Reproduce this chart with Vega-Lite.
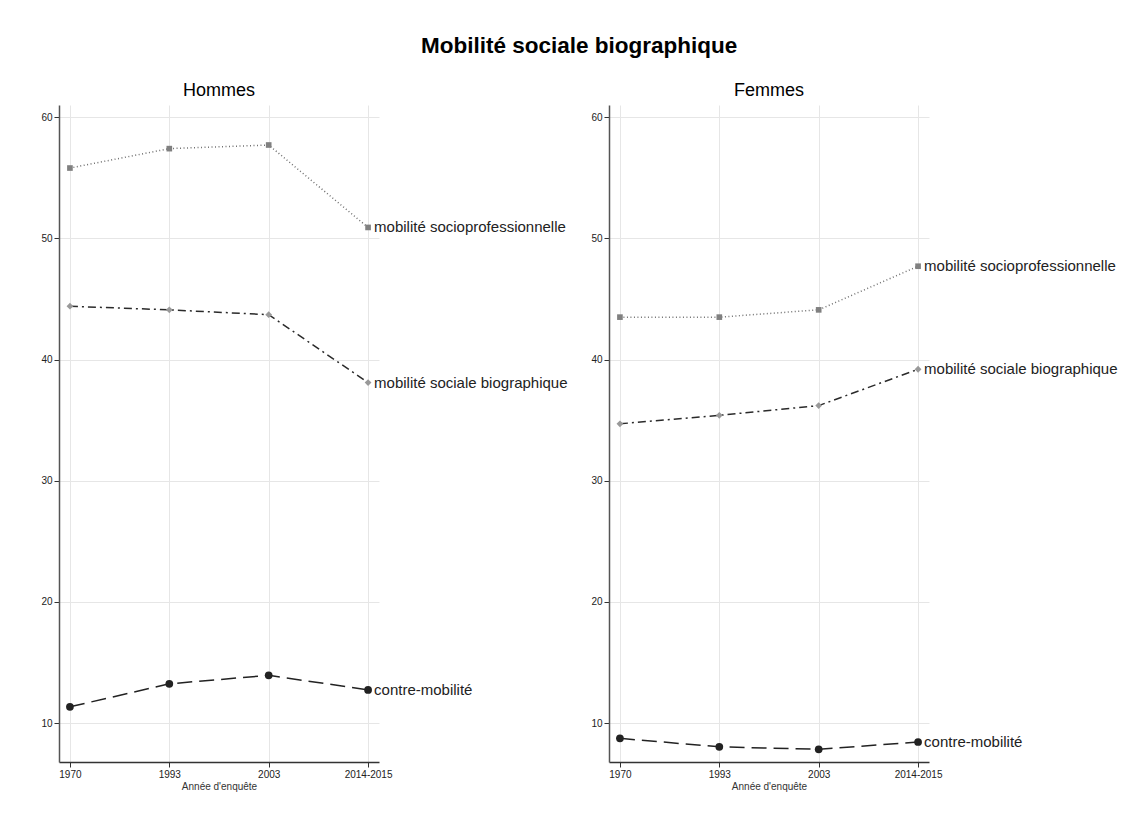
{
  "$schema": "https://vega.github.io/schema/vega-lite/v6.json",
  "background": "white",
  "padding": {"left": 40, "top": 34, "right": 5, "bottom": 5},
  "title": {"text": "Mobilité sociale biographique", "fontSize": 22.5, "fontWeight": "bold", "font": "Liberation Sans", "color": "#000", "anchor": "middle", "offset": 25},
  "data": {"values": [
    {"sexe": "Hommes", "annee": "1970", "serie": "mobilité socioprofessionnelle", "valeur": 55.8},
    {"sexe": "Hommes", "annee": "1993", "serie": "mobilité socioprofessionnelle", "valeur": 57.4},
    {"sexe": "Hommes", "annee": "2003", "serie": "mobilité socioprofessionnelle", "valeur": 57.7},
    {"sexe": "Hommes", "annee": "2014-2015", "serie": "mobilité socioprofessionnelle", "valeur": 50.9},
    {"sexe": "Hommes", "annee": "1970", "serie": "mobilité sociale biographique", "valeur": 44.4},
    {"sexe": "Hommes", "annee": "1993", "serie": "mobilité sociale biographique", "valeur": 44.1},
    {"sexe": "Hommes", "annee": "2003", "serie": "mobilité sociale biographique", "valeur": 43.7},
    {"sexe": "Hommes", "annee": "2014-2015", "serie": "mobilité sociale biographique", "valeur": 38.1},
    {"sexe": "Hommes", "annee": "1970", "serie": "contre-mobilité", "valeur": 11.35},
    {"sexe": "Hommes", "annee": "1993", "serie": "contre-mobilité", "valeur": 13.25},
    {"sexe": "Hommes", "annee": "2003", "serie": "contre-mobilité", "valeur": 13.95},
    {"sexe": "Hommes", "annee": "2014-2015", "serie": "contre-mobilité", "valeur": 12.75},
    {"sexe": "Femmes", "annee": "1970", "serie": "mobilité socioprofessionnelle", "valeur": 43.5},
    {"sexe": "Femmes", "annee": "1993", "serie": "mobilité socioprofessionnelle", "valeur": 43.5},
    {"sexe": "Femmes", "annee": "2003", "serie": "mobilité socioprofessionnelle", "valeur": 44.1},
    {"sexe": "Femmes", "annee": "2014-2015", "serie": "mobilité socioprofessionnelle", "valeur": 47.7},
    {"sexe": "Femmes", "annee": "1970", "serie": "mobilité sociale biographique", "valeur": 34.7},
    {"sexe": "Femmes", "annee": "1993", "serie": "mobilité sociale biographique", "valeur": 35.4},
    {"sexe": "Femmes", "annee": "2003", "serie": "mobilité sociale biographique", "valeur": 36.2},
    {"sexe": "Femmes", "annee": "2014-2015", "serie": "mobilité sociale biographique", "valeur": 39.2},
    {"sexe": "Femmes", "annee": "1970", "serie": "contre-mobilité", "valeur": 8.75},
    {"sexe": "Femmes", "annee": "1993", "serie": "contre-mobilité", "valeur": 8.05},
    {"sexe": "Femmes", "annee": "2003", "serie": "contre-mobilité", "valeur": 7.85},
    {"sexe": "Femmes", "annee": "2014-2015", "serie": "contre-mobilité", "valeur": 8.45}
  ]},
  "facet": {
    "column": {
      "field": "sexe", "type": "nominal", "sort": ["Hommes", "Femmes"],
      "header": {"title": null, "labelFontSize": 18, "labelFont": "Liberation Sans", "labelColor": "#000", "labelPadding": 5}
    }
  },
  "spacing": 230,
  "bounds": "flush",
  "resolve": {"axis": {"y": "independent", "x": "independent"}},
  "spec": {
    "width": 320,
    "height": 657,
    "encoding": {
      "x": {"field": "annee", "type": "ordinal", "sort": ["1970", "1993", "2003", "2014-2015"],
        "scale": {"type": "point", "padding": 0.11},
        "axis": {"title": "Année d'enquête", "labelAngle": 0, "titleFontSize": 10, "titleFontWeight": "normal", "titleColor": "#333", "titlePadding": 2, "labelFontSize": 10, "labelColor": "#222", "labelPadding": 2, "tickSize": 5, "domainColor": "#333", "domainWidth": 1.5, "tickColor": "#333", "gridColor": "#e6e6e6", "grid": true}},
      "y": {"field": "valeur", "type": "quantitative",
        "scale": {"domain": [6.8, 61], "zero": false, "nice": false},
        "axis": {"title": null, "values": [10, 20, 30, 40, 50, 60], "labelFontSize": 10, "labelColor": "#222", "labelPadding": 2, "tickSize": 5, "domainColor": "#555", "domainWidth": 1.5, "tickColor": "#333", "gridColor": "#e6e6e6", "grid": true}}
    },
    "layer": [
      {
        "mark": {"type": "line", "strokeWidth": 1.5},
        "encoding": {
          "stroke": {"field": "serie", "type": "nominal", "legend": null,
            "scale": {"domain": ["mobilité socioprofessionnelle", "mobilité sociale biographique", "contre-mobilité"], "range": ["#707070", "#2a2a2a", "#222222"]}},
          "strokeDash": {"field": "serie", "type": "nominal", "legend": null,
            "scale": {"domain": ["mobilité socioprofessionnelle", "mobilité sociale biographique", "contre-mobilité"], "range": [[1, 2.5], [8, 4, 2, 4], [15, 7]]}}
        }
      },
      {
        "mark": {"type": "point", "filled": true, "opacity": 1},
        "encoding": {
          "fill": {"field": "serie", "type": "nominal", "legend": null,
            "scale": {"domain": ["mobilité socioprofessionnelle", "mobilité sociale biographique", "contre-mobilité"], "range": ["#808080", "#999999", "#222222"]}},
          "shape": {"field": "serie", "type": "nominal", "legend": null,
            "scale": {"domain": ["mobilité socioprofessionnelle", "mobilité sociale biographique", "contre-mobilité"], "range": ["square", "diamond", "circle"]}},
          "size": {"field": "serie", "type": "nominal", "legend": null,
            "scale": {"domain": ["mobilité socioprofessionnelle", "mobilité sociale biographique", "contre-mobilité"], "range": [32, 60, 18]}}
        }
      },
      {
        "transform": [{"filter": "datum.annee == '2014-2015'"}],
        "mark": {"type": "text", "align": "left", "baseline": "middle", "dx": 6, "fontSize": 15, "font": "Liberation Sans", "color": "#222"},
        "encoding": {"text": {"field": "serie", "type": "nominal"}}
      }
    ]
  },
  "config": {
    "font": "Liberation Sans",
    "view": {"stroke": null}
  }
}
